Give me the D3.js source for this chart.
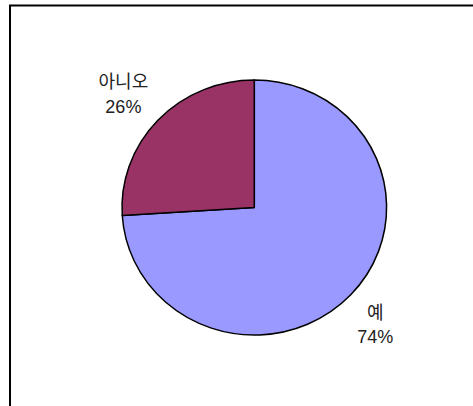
<!DOCTYPE html>
<html>
<head>
<meta charset="utf-8">
<script src="https://cdn.jsdelivr.net/npm/d3@7"></script>
<style>
  html, body { margin: 0; padding: 0; background: #fff; }
  svg { display: block; }
  text { font-family: "Liberation Sans", Arial, "Noto Sans CJK KR", sans-serif; fill: #222; }
</style>
</head>
<body>
<svg id="chart" width="473" height="406"></svg>
<script>
// Survey answers and their shares (percent)
const categories = ["예", "아니오"];
const shares = [74, 26];
const colors = ["#9999FF", "#993366"];

const svg = d3.select("#chart");

// Chart frame (right and bottom edges fall outside the view)
svg.append("rect")
  .attr("x", 10).attr("y", 5.5)
  .attr("width", 470).attr("height", 410)
  .attr("fill", "#fff")
  .attr("stroke", "#000")
  .attr("stroke-width", 2);

const cx = 254.3, cy = 207.5;
const r = 132.3;
const yScale = 127.5 / 132.3; // pie is drawn slightly flattened

const pie = d3.pie().sort(null).value(d => d.value);
const arcs = pie(categories.map((c, i) => ({ name: c, value: shares[i], color: colors[i] })));

const arc = d3.arc().innerRadius(0).outerRadius(r);
const labelArc = d3.arc().innerRadius(170).outerRadius(170);

const g = svg.append("g").attr("transform", `translate(${cx},${cy}) scale(1,${yScale})`);

g.selectAll("path")
  .data(arcs)
  .join("path")
  .attr("d", arc)
  .attr("fill", d => d.data.color)
  .attr("stroke", "#000")
  .attr("stroke-width", 1.5)
  .attr("stroke-linejoin", "round")
  .attr("vector-effect", "non-scaling-stroke");

// small per-label nudges to keep labels clear of the rim
const nudge = { "예": [-3, 4], "아니오": [-7, -2] };

const labels = svg.append("g");
arcs.forEach(d => {
  const [lx, ly] = labelArc.centroid(d);
  const [nx, ny] = nudge[d.data.name] || [0, 0];
  const x = cx + lx + nx;
  const y = cy + ly * yScale + ny;
  const t = labels.append("text")
    .attr("text-anchor", "middle")
    .attr("font-size", 18);
  t.append("tspan").attr("x", x).attr("y", y - 5).text(d.data.name);
  t.append("tspan").attr("x", x).attr("y", y + 19.5).text(d.data.value + "%");
});
</script>
</body>
</html>
